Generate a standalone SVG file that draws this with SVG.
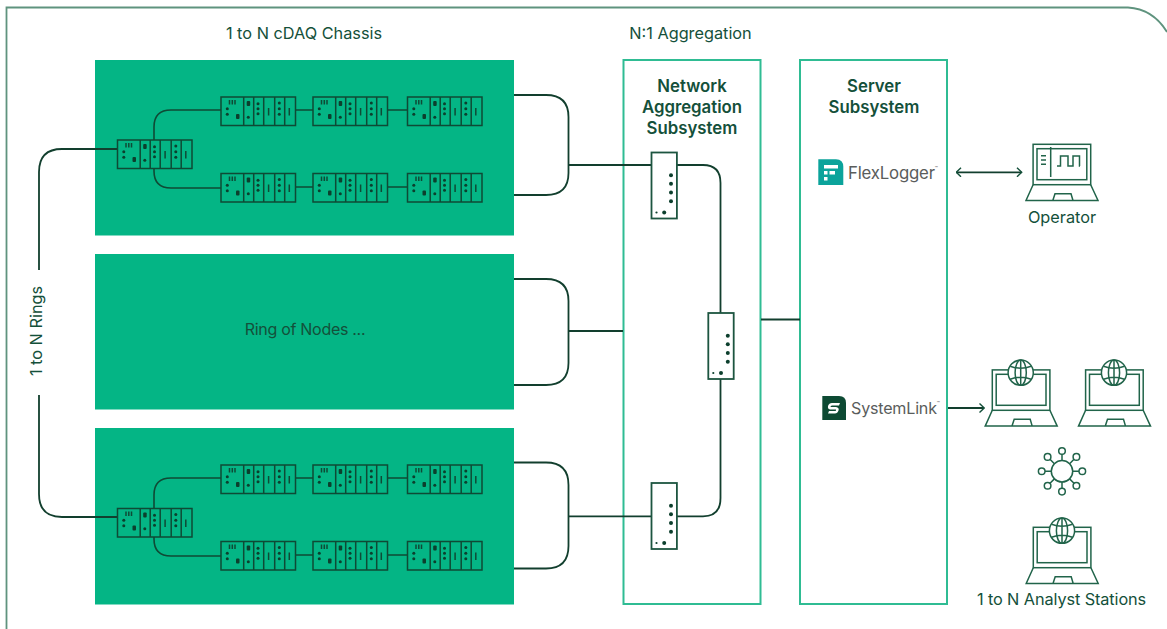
<svg xmlns="http://www.w3.org/2000/svg" xmlns:xlink="http://www.w3.org/1999/xlink" width="1167" height="629" viewBox="0 0 1167 629">
<style>
text{font-family:Inter,"Liberation Sans",sans-serif;fill:#14503a;font-size:16.300px}
.c{text-anchor:middle}
.b{font-weight:600;font-size:16.800px}
.g{fill:#5a5d5c;font-size:16.800px;letter-spacing:-.2px}
.tm{font-size:5px;fill:#5a5d5c}
.area{fill:#04b585}
.panel{fill:#fff;stroke:#2fbc93;stroke-width:2}
.line{fill:none;stroke:#123f2e;stroke-width:1.8}
.ch{fill:none;stroke:#0f4a35;stroke-width:1.5}
.d{fill:#0c3f2d}
.sw{fill:#fff;stroke:#1d5540;stroke-width:1.8}
.ic{fill:none;stroke:#21644a;stroke-width:1.500}
</style>
<defs>
<marker id="arr" viewBox="0 0 10 10" refX="9" refY="5" markerWidth="10" markerHeight="10" markerUnits="userSpaceOnUse" orient="auto-start-reverse"><path d="M4.5 .5L9.2 5L4.5 9.500" fill="none" stroke="#14503a" stroke-width="1.400"/></marker>
<g id="chassis">
<rect class="ch" width="74.500" height="28.500"/>
<path class="ch" d="M22.700 0V28.500M32.700 0V28.500M42.700 0V28.500M53.700 0V28.500M63.700 0V28.500"/>
<path class="ch" d="M8.500 3V7.500M11.300 3V7.500M14 3V7.500M47.600 11V18.500M68.300 11V18.500"/>
<g class="d"><circle cx="6.300" cy="11.700" r="1.500"/><circle cx="6.300" cy="17.300" r="1.500"/><rect x="15" y="17" width="3.500" height="5" rx="1"/><rect x="25.700" y="4" width="3.500" height="5" rx="1"/><circle cx="27.300" cy="20.300" r="1.500"/><circle cx="37" cy="6.700" r="1.500"/><circle cx="37" cy="11.700" r="1.500"/><circle cx="37" cy="16.700" r="1.500"/><circle cx="58.300" cy="6" r="1.500"/><circle cx="58.300" cy="11.700" r="1.500"/><circle cx="58.300" cy="17.300" r="1.500"/></g>
</g>
<g id="switch">
<rect class="sw" width="25.400" height="66"/>
<g class="d"><circle cx="19.500" cy="22.700" r="2"/><circle cx="19.500" cy="31.300" r="2"/><circle cx="19.500" cy="40" r="2"/><circle cx="19.500" cy="48.700" r="2"/><circle cx="5" cy="60" r="1.100"/><circle cx="12.700" cy="60" r="2"/></g>
</g>
<g id="laptop">
<rect class="ic" x=".6" y=".6" width="57.600" height="40.400"/>
<rect class="ic" x="4.500" y="5" width="49.800" height="31"/>
<path class="ic" d="M.6 41L-6.500 56.800H65.500L58.200 41M20.300 56.800L22.500 50H38.500L40.500 56.800"/>
</g>
<g id="globe">
<circle r="12.600" fill="#fff" stroke="#21644a" stroke-width="1.500"/>
<ellipse rx="5.600" ry="12.600" class="ic"/>
<path class="ic" d="M0 -12.600V12.600M-10.500 -6.500Q0 -2.500 10.500 -6.500M-10.500 6.500Q0 2.500 10.500 6.500"/>
</g>
<g id="row">
<use href="#chassis" x="221" y="0"/><use href="#chassis" x="313" y="0"/><use href="#chassis" x="407.500" y="0"/>
</g>
</defs>
<rect width="1167" height="629" fill="#fff"/>
<path id="frame" d="M6.500 629V7.500H1128Q1153 9 1167 32" fill="none" stroke="#5f937e" stroke-width="1.800"/>
<g id="area-top"><rect class="area" x="95" y="60" width="419" height="175.500"/></g>
<g id="area-mid"><rect class="area" x="95" y="254" width="419" height="155.500"/></g>
<g id="area-bot"><rect class="area" x="95" y="428" width="419" height="176.500"/></g>
<g id="panel-aggregation"><rect class="panel" x="623.500" y="60" width="137" height="544"/></g>
<g id="panel-server"><rect class="panel" x="800" y="60" width="147" height="544"/></g>
<g id="connectors">
<path class="line" d="M514 95H546Q568.500 95 568.500 117V173Q568.500 195 546 195H514"/>
<path class="line" d="M568.500 165H652M677 165H703Q720.500 165 720.500 183V313M720.500 379V498Q720.500 516.300 703 516.300H677M568.500 516.300H652"/>
<path class="line" d="M514 279H546Q568.500 279 568.500 301V363Q568.500 385 546 385H514M568.500 331H623"/>
<path class="line" d="M514 462.500H546Q568.500 462.500 568.500 485V546Q568.500 568.500 546 568.500H514"/>
<path class="line" d="M761 319.500H800"/>
<path class="line" d="M39 270V172Q39 149 62 149H118M39 395V494Q39 517 62 517H118"/>
<path class="line" d="M956.500 172.300H1021.500" marker-start="url(#arr)" marker-end="url(#arr)"/>
<path class="line" d="M948 408H984" marker-end="url(#arr)"/>
<g style="stroke:#0f4a35;stroke-width:1.600;fill:none">
<path d="M154 140V127Q154 110 171 110H221M154 168V171Q154 188 171 188H221M295 110H313M387.500 110H407.500M295 187H313M387.500 187H407.500"/>
<path d="M154 508V495Q154 478 171 478H221M154 537V539Q154 556 171 556H221M295 478H313M387.500 478H407.500M295 555H313M387.500 555H407.500"/>
</g>
</g>
<g id="ring-top">
<use href="#chassis" x="117.500" y="140"/><use href="#row" y="97"/><use href="#row" y="173.500"/>
</g>
<g id="ring-mid"><text class="c" x="305" y="335" style="letter-spacing:-.3px;font-size:16px">Ring of Nodes ...</text></g>
<g id="ring-bot">
<use href="#chassis" x="117.500" y="508.500"/><use href="#row" y="465"/><use href="#row" y="541.500"/>
</g>
<g id="switch-top"><use href="#switch" x="651.500" y="152.500"/></g>
<g id="switch-mid"><use href="#switch" x="708.300" y="313"/></g>
<g id="switch-bot"><use href="#switch" x="651.500" y="483"/></g>
<text class="c" x="304" y="39">1 to N cDAQ Chassis</text>
<text class="c" x="690.500" y="39">N:1 Aggregation</text>
<g id="label-rings"><text class="c" transform="translate(41.500 331) rotate(-90)">1 to N Rings</text></g>
<g id="label-network"><text class="c b" x="692" y="91.500">Network</text><text class="c b" x="692" y="112.500">Aggregation</text><text class="c b" x="692" y="133.500">Subsystem</text></g>
<g id="label-server"><text class="c b" x="874" y="91.500">Server</text><text class="c b" x="874" y="112.500">Subsystem</text></g>
<g id="flexlogger">
<path d="M818.300 159.300H836Q843.300 159.300 843.300 167V185H818.300Z" fill="#0ba39b"/>
<path d="M824 165H838V168.500H824ZM829.500 171H835V174.500H829.500ZM824 171H827.500V174.500H824ZM824 177H827.500V180.500H824Z" fill="#fff"/>
<text class="g" x="848" y="178.500">FlexLogger<tspan class="tm" dy="-9">™</tspan></text>
</g>
<g id="systemlink">
<path d="M822.300 396H839Q846 396 846 403V420H822.300Z" fill="#0d4a33"/>
<path d="M828 406Q829 403 832 403H840L839 405.500H832Q830.500 405.500 830.500 407H836Q839.500 407.500 838.500 410.500Q837.500 413.500 835 413.500H828L829 411H835Q836.500 411 836 409.500H830Q827.500 409 828 406Z" fill="#fff"/>
<text class="g" x="851" y="413.500" style="font-size:16.100px">SystemLink<tspan class="tm" dy="-9">™</tspan></text>
</g>
<g id="operator">
<use href="#laptop" x="1032.500" y="143.700"/>
<path class="ic" d="M1050.700 147V177M1041 155.700H1046M1041 160H1046M1041 164.300H1046M1057 166H1060.500V156H1068V166H1073V156H1079.500V166H1080"/>
<text class="c" x="1062" y="222.500">Operator</text>
</g>
<g id="analyst-1"><use href="#laptop" x="991.700" y="369.300"/><use href="#globe" x="1020.700" y="372.700"/></g>
<g id="analyst-2"><use href="#laptop" x="1085" y="369.300"/><use href="#globe" x="1114" y="372.700"/></g>
<g id="analyst-3"><use href="#laptop" x="1032.700" y="526.700"/><use href="#globe" x="1062" y="530.700"/>
<text class="c" x="1061.500" y="604.500" style="letter-spacing:-.1px">1 to N Analyst Stations</text></g>
<g id="network-icon" transform="translate(1062 471.300)">
<circle r="10.700" class="ic"/>
<path class="ic" d="M0 -10.700V-17M0 10.700V17M-10.700 0H-17M10.700 0H17M-7.600 -7.600L-12 -12M7.600 -7.600L12 -12M-7.600 7.600L-12 12M7.600 7.600L12 12"/>
<g class="ic"><circle cy="-20.300" r="3.300"/><circle cy="20.300" r="3.300"/><circle cx="-20.300" r="3.300"/><circle cx="20.300" r="3.300"/><circle cx="-14.400" cy="-14.400" r="3.300"/><circle cx="14.400" cy="-14.400" r="3.300"/><circle cx="-14.400" cy="14.400" r="3.300"/><circle cx="14.400" cy="14.400" r="3.300"/></g>
</g>
</svg>
